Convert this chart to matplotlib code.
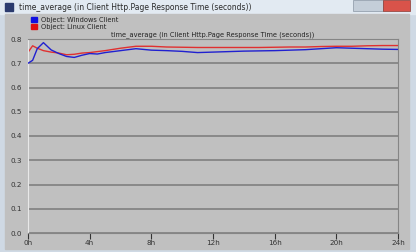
import numpy as np
import matplotlib.pyplot as plt
from matplotlib.patches import Rectangle

# data (hours, seconds)
hours_win = [0, 0.3, 0.6, 1.0, 1.5, 2.0, 2.5, 3.0, 3.5, 4.0, 4.5, 5.0, 6.0, 7.0, 8.0,
             9.0, 10.0, 11.0, 12.0, 13.0, 14.0, 15.0, 16.0, 17.0, 18.0, 19.0, 20.0,
             21.0, 22.0, 23.0, 24.0]
win_client = [0.700, 0.712, 0.760, 0.785, 0.755, 0.740, 0.728, 0.724, 0.733, 0.740, 0.738,
              0.744, 0.752, 0.760, 0.754, 0.752, 0.749, 0.744, 0.746, 0.748, 0.750, 0.751,
              0.752, 0.754, 0.756, 0.760, 0.764, 0.762, 0.760, 0.758, 0.757]
hours_lin = [0, 0.3, 0.6, 1.0, 1.5, 2.0, 2.5, 3.0, 3.5, 4.0, 5.0, 6.0, 7.0, 8.0, 9.0,
             10.0, 11.0, 12.0, 13.0, 14.0, 15.0, 16.0, 17.0, 18.0, 19.0, 20.0, 21.0,
             22.0, 23.0, 24.0]
lin_client = [0.745, 0.772, 0.762, 0.752, 0.746, 0.742, 0.735, 0.737, 0.742, 0.744, 0.752,
              0.762, 0.770, 0.770, 0.767, 0.766, 0.765, 0.765, 0.765, 0.765, 0.765, 0.766,
              0.767, 0.767, 0.769, 0.770, 0.770, 0.772, 0.773, 0.773]

y_ticks = [0.0, 0.1, 0.2, 0.3, 0.4, 0.5, 0.6, 0.7, 0.8]
x_ticks = [0, 4, 8, 12, 16, 20, 24]
x_labels = ['0h', '4h', '8h', '12h', '16h', '20h', '24h']

W, H = 416, 252
fig = plt.figure(figsize=(W / 100, H / 100), dpi=100)
fig.patch.set_facecolor('#cfd9e4')

def box(x, y, w, h, **kw):
    # rectangle in pixel coords (top-left origin)
    fig.add_artist(Rectangle((x / W, 1 - (y + h) / H), w / W, h / H,
                             transform=fig.transFigure, **kw))

def px(x, y, w, h):
    return (x / W, 1 - (y + h) / H, w / W, h / H)

# window chrome
box(0, 0, W, 14, color='#e2eaf2', zorder=0)
box(5, 14, 404, 235, color='#c0c0c0', zorder=0)
box(5, 3, 8, 8, color='#2b3b6e', zorder=1)
box(353, 0, 30, 11, color='#c4ced9', ec='#8a96a3', lw=0.5, zorder=1)
box(383, 0, 27, 11, color='#d9534a', ec='#8a3a33', lw=0.5, zorder=1)
fig.text(19 / W, 1 - 7 / H, 'time_average (in Client Http.Page Response Time (seconds))',
         fontsize=5.5, va='center', ha='left', color='#2a2a2a')

# legend
box(31, 17, 6, 5, color='#1010e0', zorder=2)
box(31, 24, 6, 5, color='#e01010', zorder=2)
fig.text(41 / W, 1 - 20 / H, 'Object: Windows Client', fontsize=4.8, va='center', color='#222222')
fig.text(41 / W, 1 - 27 / H, 'Object: Linux Client', fontsize=4.8, va='center', color='#222222')

ax = fig.add_axes(px(28, 39, 370, 194))
ax.set_facecolor('#c0c0c0')
ax.set_xlim(0, 24)
ax.set_ylim(0, 0.8)

for yv in y_ticks:
    ax.axhline(yv, color='#858585', lw=1.3, zorder=1)

ax.plot(hours_win, win_client, color='#2020d0', lw=1.0, zorder=3)
ax.plot(hours_lin, lin_client, color='#e03030', lw=1.0, zorder=2)

ax.set_title('time_average (in Client Http.Page Response Time (seconds))',
             fontsize=4.8, color='#222222', pad=2)
ax.set_yticks(y_ticks)
ax.set_yticklabels(['%.1f' % v for v in y_ticks])
ax.set_xticks(x_ticks)
ax.set_xticklabels(x_labels)
ax.tick_params(axis='y', length=0, labelsize=5.2, colors='#333333', pad=4)
ax.tick_params(axis='x', length=4, width=0.8, labelsize=5.2, colors='#333333', pad=1,
               direction='out')
for side in ['top', 'right', 'bottom']:
    ax.spines[side].set_color('#858585')
    ax.spines[side].set_linewidth(0.8)
ax.spines['left'].set_color('#e8e8e8')
ax.spines['left'].set_linewidth(0.8)

fig.savefig('out.png', dpi=100, facecolor=fig.get_facecolor())
